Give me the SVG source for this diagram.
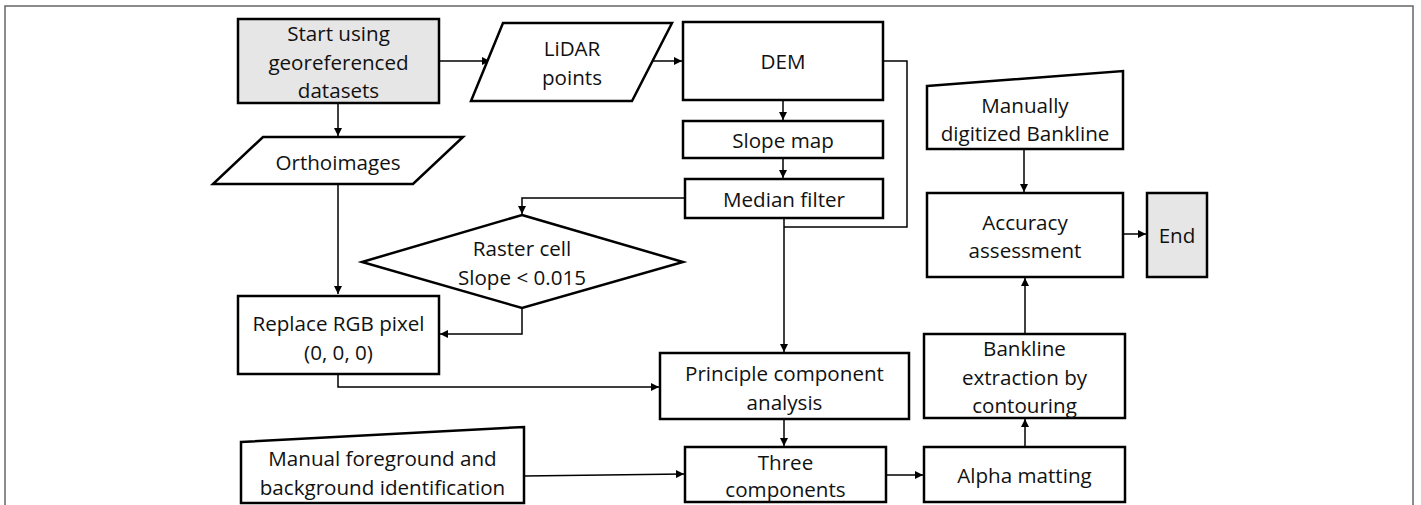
<svg xmlns="http://www.w3.org/2000/svg" width="1421" height="505" viewBox="0 0 1421 505">
<style>
.n{fill:#fff;stroke:#000;stroke-width:2.5}
.g{fill:#e6e6e6;stroke:#000;stroke-width:2.5}
.c{fill:none;stroke:#000;stroke-width:1.5}
text{font-family:"Open Sans","Liberation Sans",sans-serif;font-size:20.6px;fill:#111;text-anchor:middle;dominant-baseline:central}
</style>
<defs>
<marker id="a" viewBox="0 0 10 10" refX="10" refY="5" markerWidth="8" markerHeight="8" markerUnits="userSpaceOnUse" orient="auto">
<path d="M0,0L10,5L0,10z" fill="#000"/>
</marker>
</defs>
<rect width="1421" height="505" fill="#fff"/>
<path d="M5,506V6H1413V506" fill="none" stroke="#666" stroke-width="1.5"/>
<g id="connectors">
<path class="c" d="M439,61H490" marker-end="url(#a)"/>
<path class="c" d="M653,61H682" marker-end="url(#a)"/>
<path class="c" d="M338,103V136" marker-end="url(#a)"/>
<path class="c" d="M338,184V294" marker-end="url(#a)"/>
<path class="c" d="M783,100V120" marker-end="url(#a)"/>
<path class="c" d="M783,158V178" marker-end="url(#a)"/>
<path class="c" d="M685,198H522V214" marker-end="url(#a)"/>
<path class="c" d="M522,308V334H440" marker-end="url(#a)"/>
<path class="c" d="M883,61H907V227H784"/>
<path class="c" d="M784,218V352" marker-end="url(#a)"/>
<path class="c" d="M338,374V387H659" marker-end="url(#a)"/>
<path class="c" d="M784,419V446" marker-end="url(#a)"/>
<path class="c" d="M524,476L684,474" marker-end="url(#a)"/>
<path class="c" d="M886,475H923" marker-end="url(#a)"/>
<path class="c" d="M1025,447V419" marker-end="url(#a)"/>
<path class="c" d="M1025,334V278" marker-end="url(#a)"/>
<path class="c" d="M1024,149V192" marker-end="url(#a)"/>
<path class="c" d="M1123,234H1146" marker-end="url(#a)"/>
</g>
<g id="start">
<rect class="g" x="238" y="19" width="201" height="84"/>
<text x="338.5" y="33">Start using</text>
<text x="338.5" y="62">georeferenced</text>
<text x="338.5" y="90">datasets</text>
</g>
<g id="lidar">
<path class="n" d="M503,23H672L632,101H471Z"/>
<text x="572" y="48">LiDAR</text>
<text x="572" y="77">points</text>
</g>
<g id="dem">
<rect class="n" x="683" y="22" width="200" height="78"/>
<text x="783" y="61">DEM</text>
</g>
<g id="slope">
<rect class="n" x="683" y="121" width="200" height="37"/>
<text x="783" y="140">Slope map</text>
</g>
<g id="median">
<rect class="n" x="685" y="179" width="198" height="39"/>
<text x="784" y="199">Median filter</text>
</g>
<g id="ortho">
<path class="n" d="M263,137H463L413,184H213Z"/>
<text x="338" y="162">Orthoimages</text>
</g>
<g id="raster">
<path class="n" d="M522,215L683,262L522,308L362,262Z"/>
<text x="522" y="248">Raster cell</text>
<text x="522" y="277">Slope &lt; 0.015</text>
</g>
<g id="replace">
<rect class="n" x="238" y="296" width="201" height="78"/>
<text x="338.5" y="323">Replace RGB pixel</text>
<text x="338.5" y="352">(0, 0, 0)</text>
</g>
<g id="pca">
<rect class="n" x="660" y="353" width="249" height="66"/>
<text x="784.5" y="373">Principle component</text>
<text x="784.5" y="402">analysis</text>
</g>
<g id="manualfg">
<path class="n" d="M241,442L524,427V503H241Z"/>
<text x="382.5" y="458">Manual foreground and</text>
<text x="382.5" y="487">background identification</text>
</g>
<g id="three">
<rect class="n" x="685" y="447" width="201" height="55"/>
<text x="785.5" y="462">Three</text>
<text x="785.5" y="489">components</text>
</g>
<g id="alpha">
<rect class="n" x="924" y="447" width="201" height="55"/>
<text x="1024.5" y="475">Alpha matting</text>
</g>
<g id="extraction">
<rect class="n" x="924" y="334" width="201" height="84"/>
<text x="1024.5" y="348">Bankline</text>
<text x="1024.5" y="377">extraction by</text>
<text x="1024.5" y="405">contouring</text>
</g>
<g id="accuracy">
<rect class="n" x="927" y="193" width="196" height="84"/>
<text x="1025" y="222">Accuracy</text>
<text x="1025" y="250">assessment</text>
</g>
<g id="end">
<rect class="g" x="1147" y="193" width="60" height="84"/>
<text x="1177" y="235">End</text>
</g>
<g id="manualbank">
<path class="n" d="M927,86L1123,71V149H927Z"/>
<text x="1025" y="105">Manually</text>
<text x="1025" y="133">digitized Bankline</text>
</g>
</svg>
